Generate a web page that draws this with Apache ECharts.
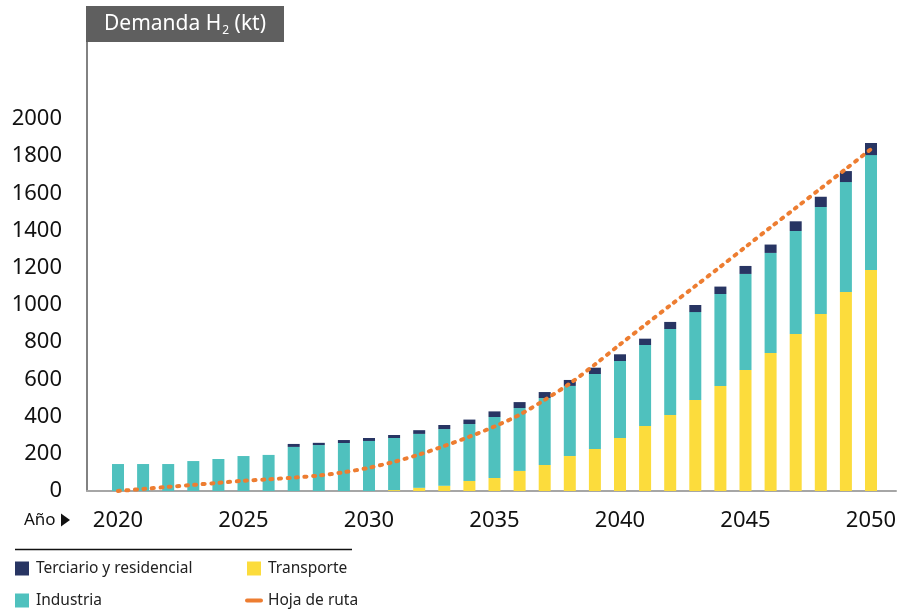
<!DOCTYPE html>
<html>
<head>
<meta charset="utf-8">
<title>Demanda H2 (kt)</title>
<script src="https://cdn.jsdelivr.net/npm/echarts@6/dist/echarts.min.js"></script>
<style>
  html, body { margin: 0; padding: 0; background: #ffffff; }
  #chart { width: 900px; height: 610px; }
</style>
</head>
<body>
<div id="chart"></div>
<script>
// Años del horizonte 2020-2050
const years = ['2020', '2021', '2022', '2023', '2024', '2025', '2026', '2027', '2028', '2029', '2030',
               '2031', '2032', '2033', '2034', '2035', '2036', '2037', '2038', '2039', '2040',
               '2041', '2042', '2043', '2044', '2045', '2046', '2047', '2048', '2049', '2050'];

// Demanda de hidrógeno por sector (kt)
const transporte = [0, 0, 0, 0, 0, 0, 0, 0, 0, 0, 0,
                    5, 17, 28, 54, 70, 108, 140, 188, 226, 285,
                    349, 409, 489, 565, 651, 742, 844, 952, 1070, 1188];
const industria = [145, 145, 145, 161, 172, 188, 194, 237, 247, 258, 269,
                   280, 290, 305, 306, 328, 338, 360, 377, 403, 414,
                   436, 462, 473, 494, 516, 538, 554, 575, 591, 618];
const terciario = [0, 0, 0, 0, 0, 0, 0, 16, 12, 16, 16,
                   16, 20, 22, 24, 30, 32, 32, 32, 34, 36,
                   34, 38, 38, 40, 43, 45, 52, 55, 59, 65];

// Trayectoria de la hoja de ruta (kt)
const hojaDeRuta = [0, 11, 22, 33, 44, 55, 63, 72, 83, 101, 125,
                    157, 196, 242, 292, 347, 410, 490, 578, 680, 788,
                    893, 998, 1102, 1206, 1312, 1418, 1522, 1627, 1732, 1838];

// Etiquetas de los ejes
const xTickLabels = ['2020', '2025', '2030', '2035', '2040', '2045', '2050'];
const yMaxLabel = 2000;
const yStep = 200;

const FONT = 'Noto Sans';
const COLORS = {
  terciario: '#283563',
  industria: '#4FC1BE',
  transporte: '#FCDC3C',
  ruta: '#ED7D31'
};

const chart = echarts.init(document.getElementById('chart'), null, { renderer: 'canvas' });

chart.setOption({
  animation: false,
  backgroundColor: '#ffffff',
  textStyle: { fontFamily: FONT },
  grid: [
    // área de las barras
    { left: 105.45, right: 16.45, top: 42, bottom: 119 },
    // marco que prolonga la línea base hasta el eje vertical
    { left: 87, right: 4, top: 42, bottom: 119 }
  ],
  xAxis: [
    {
      type: 'category',
      gridIndex: 0,
      data: years,
      boundaryGap: true,
      axisLine: { show: false },
      axisTick: { show: false },
      splitLine: { show: false },
      axisLabel: {
        interval: (idx, val) => xTickLabels.includes(val),
        fontFamily: FONT,
        fontSize: 22,
        color: '#111111',
        margin: 19
      }
    },
    {
      type: 'value',
      gridIndex: 1,
      min: 0, max: 1,
      axisLine: { show: true, lineStyle: { color: '#A6A6A6', width: 2 } },
      axisTick: { show: false },
      axisLabel: { show: false },
      splitLine: { show: false }
    }
  ],
  yAxis: [
    {
      type: 'value',
      gridIndex: 0,
      offset: 18.45,
      min: 0,
      max: 2414,
      interval: yStep,
      axisLine: { show: true, lineStyle: { color: '#595959', width: 1.5 } },
      axisTick: { show: false },
      splitLine: { show: false },
      axisLabel: {
        formatter: v => (v <= yMaxLabel ? String(v) : ''),
        showMaxLabel: false,
        fontFamily: FONT,
        fontSize: 22,
        color: '#111111',
        margin: 25,
        padding: [0, 0, 16, 0]
      }
    },
    {
      type: 'value',
      gridIndex: 1,
      min: 0, max: 1,
      show: false
    }
  ],
  legend: [
    {
      left: 15, top: 560.5, padding: 0,
      orient: 'vertical',
      itemWidth: 14, itemHeight: 14, itemGap: 16,
      icon: 'rect',
      data: ['Terciario y residencial', 'Industria'],
      textStyle: { fontFamily: FONT, fontSize: 15.5, color: '#222222', padding: [0, 0, 0, 2] }
    },
    {
      left: 245, top: 560.5, padding: 0,
      orient: 'vertical',
      itemWidth: 14, itemHeight: 14, itemGap: 16,
      data: [
        { name: 'Transporte', icon: 'rect' },
        {
          name: 'Hoja de ruta',
          itemStyle: { opacity: 0 },
          lineStyle: { type: 'solid', width: 4, cap: 'round' }
        }
      ],
      textStyle: { fontFamily: FONT, fontSize: 15.5, color: '#222222', padding: [0, 0, 0, 2] }
    }
  ],
  series: [
    {
      name: 'Transporte', type: 'bar', stack: 'demanda', barWidth: 12,
      xAxisIndex: 0, yAxisIndex: 0,
      itemStyle: { color: COLORS.transporte },
      data: transporte
    },
    {
      name: 'Industria', type: 'bar', stack: 'demanda', barWidth: 12,
      xAxisIndex: 0, yAxisIndex: 0,
      itemStyle: { color: COLORS.industria },
      data: industria
    },
    {
      name: 'Terciario y residencial', type: 'bar', stack: 'demanda', barWidth: 12,
      xAxisIndex: 0, yAxisIndex: 0,
      itemStyle: { color: COLORS.terciario },
      data: terciario
    },
    {
      name: 'Hoja de ruta', type: 'line', z: 5,
      xAxisIndex: 0, yAxisIndex: 0,
      smooth: 0.3,
      showSymbol: false, symbol: 'none',
      itemStyle: { color: COLORS.ruta },
      lineStyle: { color: COLORS.ruta, width: 4, type: [2, 6.5], cap: 'round' },
      data: hojaDeRuta
    }
  ],
  graphic: [
    {
      type: 'rect', silent: true,
      shape: { x: 86, y: 6, width: 198, height: 36 },
      style: { fill: '#5f5f5f' }
    },
    {
      type: 'text', silent: true, x: 185, y: 24,
      style: {
        text: '{a|Demanda H}{s|2}{a| (kt)}',
        align: 'center', verticalAlign: 'middle',
        rich: {
          a: { fontFamily: FONT, fontSize: 21, fill: '#ffffff', lineHeight: 26 },
          s: { fontFamily: FONT, fontSize: 12, fill: '#ffffff', lineHeight: 12,
               verticalAlign: 'bottom', padding: [14, 0, 0, 1] }
        }
      }
    },
    {
      type: 'line', silent: true,
      shape: { x1: 15, y1: 549.5, x2: 352, y2: 549.5 },
      style: { stroke: '#111111', lineWidth: 1.3 }
    },
    {
      type: 'text', silent: true, x: 24, y: 520,
      style: { text: 'Año', fontFamily: FONT, fontSize: 17, fill: '#111111', verticalAlign: 'middle' }
    },
    {
      type: 'polygon', silent: true,
      shape: { points: [[61, 513.5], [70, 520], [61, 526.5]] },
      style: { fill: '#111111' }
    }
  ]
});
</script>
</body>
</html>
